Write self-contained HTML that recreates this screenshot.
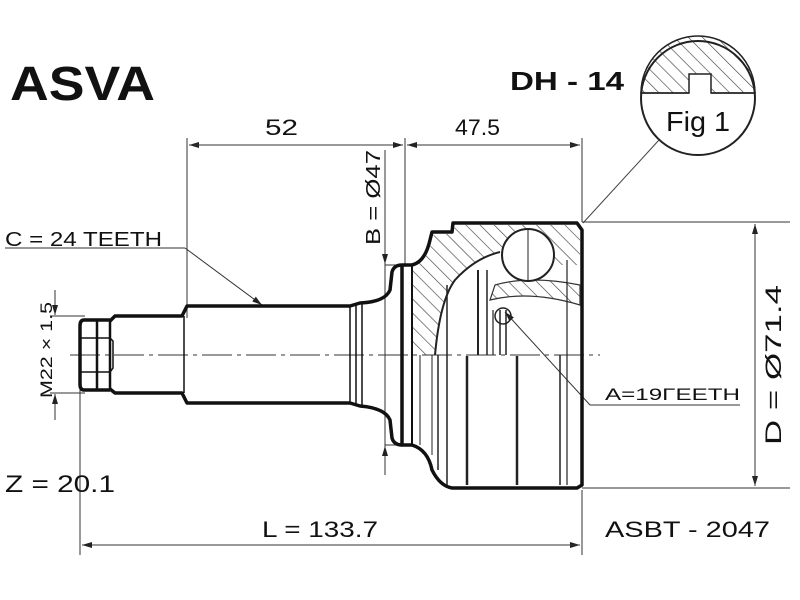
<!DOCTYPE html>
<html><head><meta charset="utf-8"><style>
html,body{margin:0;padding:0;background:#fff;}
svg{display:block;font-family:"Liberation Sans",Arial,sans-serif;}
</style></head><body>
<svg width="800" height="600" viewBox="0 0 800 600" xmlns="http://www.w3.org/2000/svg">
<defs>
<pattern id="h" width="10" height="10" patternUnits="userSpaceOnUse" patternTransform="rotate(-45)">
<line x1="0" y1="0" x2="0" y2="10" stroke="#444" stroke-width="1.3"/></pattern>
<marker id="a" markerWidth="10" markerHeight="6" refX="10" refY="3" orient="auto" markerUnits="userSpaceOnUse"><path d="M0,0 L10,3 L0,6z" fill="#222"/></marker>
</defs>
<rect width="800" height="600" fill="#fff"/>
<text x="10" y="100" font-size="48" font-weight="bold" fill="#111" textLength="145" lengthAdjust="spacingAndGlyphs">ASVA</text>
<text x="510" y="90" font-size="26" font-weight="bold" fill="#111" textLength="114" lengthAdjust="spacingAndGlyphs">DH - 14</text>

<!-- Fig 1 -->
<path d="M641,93 A57,57 0 0 1 755,93 L711,93 L711,74 L689,74 L689,93 Z" fill="url(#h)" stroke="#222" stroke-width="1.5"/>
<circle cx="698" cy="98" r="57" fill="none" stroke="#222" stroke-width="2"/>
<line x1="641" y1="93" x2="689" y2="93" stroke="#222" stroke-width="1.5"/>
<line x1="711" y1="93" x2="755" y2="93" stroke="#222" stroke-width="1.5"/>
<text x="666" y="131" font-size="28" fill="#111" textLength="64" lengthAdjust="spacingAndGlyphs">Fig 1</text>
<line x1="659" y1="140" x2="583" y2="223" stroke="#444" stroke-width="1"/>

<g stroke="#333" stroke-width="1" fill="none">
<line x1="187" y1="138" x2="187" y2="318"/>
<line x1="405" y1="138" x2="405" y2="265"/>
<line x1="582" y1="138" x2="582" y2="222"/>
<line x1="403" y1="145" x2="189" y2="145" marker-end="url(#a)"/>
<line x1="189" y1="145" x2="403" y2="145" marker-end="url(#a)"/>
<line x1="407" y1="145" x2="580" y2="145" marker-end="url(#a)"/>
<line x1="580" y1="145" x2="407" y2="145" marker-end="url(#a)"/>
<line x1="385" y1="150" x2="385" y2="475"/>
<line x1="385" y1="240" x2="385" y2="264" marker-end="url(#a)"/>
<line x1="385" y1="470" x2="385" y2="446" marker-end="url(#a)"/>
<line x1="385" y1="265" x2="410" y2="265"/>
<line x1="385" y1="445" x2="410" y2="445"/>
<line x1="582" y1="222" x2="790" y2="222"/>
<line x1="582" y1="488" x2="790" y2="488"/>
<line x1="755" y1="224" x2="755" y2="486" marker-end="url(#a)"/>
<line x1="755" y1="486" x2="755" y2="224" marker-end="url(#a)"/>
<line x1="80" y1="390" x2="80" y2="555"/>
<line x1="582" y1="490" x2="582" y2="555"/>
<line x1="82" y1="545" x2="580" y2="545" marker-end="url(#a)"/>
<line x1="580" y1="545" x2="82" y2="545" marker-end="url(#a)"/>
<line x1="50" y1="316" x2="85" y2="316"/>
<line x1="50" y1="393" x2="85" y2="393"/>
<line x1="55" y1="290" x2="55" y2="315" marker-end="url(#a)"/>
<line x1="55" y1="420" x2="55" y2="394" marker-end="url(#a)"/>
<line x1="5" y1="248" x2="185" y2="248"/>
<line x1="185" y1="248" x2="262" y2="305" marker-end="url(#a)"/>
<line x1="740" y1="405" x2="590" y2="405"/>
<line x1="590" y1="405" x2="505" y2="312" marker-end="url(#a)"/>
<line x1="70" y1="355" x2="600" y2="355" stroke-dasharray="30,5,4,5"/>
</g>

<g stroke="#111" stroke-width="3.5" fill="none" stroke-linejoin="round">
<path d="M110,320 L84,320 Q80,320 80,326 L80,384 Q80,390 84,390 L110,390"/>
<path d="M110,320 L110,390 M97,320 L97,390" stroke-width="2.5"/>
<path d="M80,338 L110,338 L113,341 L113,368 L110,372 L80,372" stroke-width="1.5"/>
<path d="M110,321 L115,316 L182,316 L187,306 L350,306 L360,303 Q385,302 390,290 L392,272 Q394,265 402,265"/>
<path d="M110,389 L115,393 L182,393 L187,403 L350,403 L360,406 Q385,408 390,420 L392,438 Q394,445 402,445"/>
<path d="M184,316 L184,393 M350,306 L350,403 M356,305 L356,404 M362,304 L362,405" stroke-width="1.5"/>
<path d="M402,265 L402,445 L412,445 M402,265 L412,265"/>
<path d="M412,265 Q425,262 430,240 L432,232 L452,232 L453,223 L577,223 L582,230 L582,485 L577,488 L452,488 Q440,486 432,470 Q428,450 412,445"/>
<path d="M412,265 L412,445" stroke-width="2"/>
</g>
<path d="M413,267 Q427,262 432,240 L434,234 L453,234 L455,225 L576,225 L580,232 L580,265 L560,265 Q520,245 500,252 Q470,262 455,280 Q440,305 435,355 L413,355 Z" fill="url(#h)" stroke="none"/>
<path d="M490,300 Q530,290 580,305 L580,285 Q530,275 495,285 Z" fill="url(#h)" stroke="#333" stroke-width="1.2"/>
<g stroke="#222" fill="none" stroke-width="2">
<circle cx="528" cy="255" r="26" fill="#fff" stroke-width="2"/>
<line x1="528" y1="228" x2="528" y2="282" stroke-width="1"/>
<path d="M435,355 Q440,300 455,280 Q475,258 500,252"/>
<line x1="447" y1="285" x2="447" y2="485" stroke-width="1.5"/>
<line x1="478" y1="270" x2="478" y2="355"/>
<line x1="487" y1="270" x2="487" y2="355" stroke-width="1.5"/>
<line x1="493" y1="310" x2="493" y2="355" stroke-width="1.2"/>
<circle cx="503" cy="316" r="8" stroke-width="1.5"/>
<line x1="500" y1="310" x2="500" y2="355" stroke-width="1.5"/>
<line x1="506" y1="310" x2="506" y2="355" stroke-width="1.5"/>
<line x1="438" y1="355" x2="438" y2="470" stroke-width="1.5"/>
<line x1="467" y1="356" x2="467" y2="485" stroke-width="2.5"/>
<line x1="517" y1="356" x2="517" y2="485" stroke-width="2.5"/>
<line x1="560" y1="355" x2="560" y2="485" stroke-width="1.5"/>
<line x1="567" y1="260" x2="567" y2="485" stroke-width="1.2"/>
<line x1="420" y1="355" x2="420" y2="445" stroke-width="1"/>
<line x1="432" y1="355" x2="432" y2="455" stroke-width="1"/>
</g>

<text x="265" y="135" font-size="22" fill="#111" textLength="33" lengthAdjust="spacingAndGlyphs">52</text>
<text x="455" y="135" font-size="22" fill="#111" textLength="45" lengthAdjust="spacingAndGlyphs">47.5</text>
<text x="5" y="246" font-size="20" fill="#111" textLength="157" lengthAdjust="spacingAndGlyphs">C  = 24 TEETH</text>
<text transform="translate(380,245) rotate(-90)" font-size="20" fill="#111" textLength="95" lengthAdjust="spacingAndGlyphs">B = Ø47</text>
<text transform="translate(52,398) rotate(-90)" font-size="17" fill="#111" textLength="96" lengthAdjust="spacingAndGlyphs">M22 × 1.5</text>
<text transform="translate(781,445) rotate(-90)" font-size="22" fill="#111" textLength="160" lengthAdjust="spacingAndGlyphs">D = Ø71.4</text>
<text x="605" y="400" font-size="17" fill="#111" textLength="135" lengthAdjust="spacingAndGlyphs">A=19ΓEETH</text>
<text x="5" y="492" font-size="24" fill="#111" textLength="110" lengthAdjust="spacingAndGlyphs">Z = 20.1</text>
<text x="262" y="537" font-size="22" fill="#111" textLength="116" lengthAdjust="spacingAndGlyphs">L = 133.7</text>
<text x="605" y="537" font-size="22" fill="#111" textLength="165" lengthAdjust="spacingAndGlyphs">ASBT - 2047</text>
</svg>
</body></html>
